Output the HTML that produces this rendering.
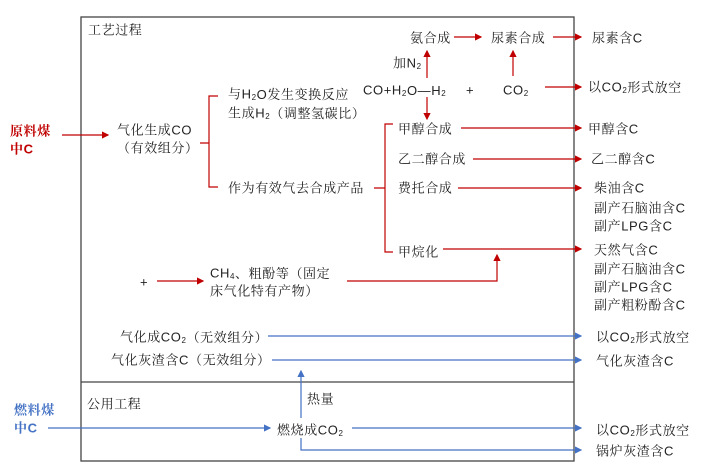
<!DOCTYPE html>
<html><head><meta charset="utf-8"><style>
body{margin:0;background:#fff}
svg text{font-family:"Liberation Sans","Noto Serif CJK SC",serif;font-size:13px;letter-spacing:0.6px;fill:#222;dominant-baseline:central}
</style></head><body>
<svg width="704" height="471" viewBox="0 0 704 471" xmlns="http://www.w3.org/2000/svg">
<defs>
<marker id="r" markerWidth="6" markerHeight="6" refX="5" refY="3" orient="auto"><path d="M0,0L6,3L0,6z" fill="#c00000"/></marker>
<marker id="b" markerWidth="6" markerHeight="6" refX="5" refY="3" orient="auto"><path d="M0,0L6,3L0,6z" fill="#4472c4"/></marker>
</defs>
<rect x="81" y="17" width="493" height="444" fill="none" stroke="#444" stroke-width="1.3"/>
<line x1="81" y1="382" x2="574" y2="382" stroke="#444" stroke-width="1.3"/>
<text x="88" y="30">工艺过程</text>
<text x="87" y="404">公用工程</text>
<g fill="none" stroke="#c00000" stroke-width="1.2">
<line x1="62" y1="135" x2="108" y2="135" marker-end="url(#r)"/>
<path d="M218,96H209V187H218M200,143H209"/>
<path d="M393,124H385V252H393M374,188H385"/>
<line x1="454" y1="37" x2="481" y2="37" marker-end="url(#r)"/>
<line x1="553" y1="37" x2="581" y2="37" marker-end="url(#r)"/>
<line x1="427" y1="78" x2="427" y2="51" marker-end="url(#r)"/>
<line x1="513" y1="76" x2="513" y2="51" marker-end="url(#r)"/>
<line x1="545" y1="87" x2="581" y2="87" marker-end="url(#r)"/>
<line x1="427" y1="97" x2="427" y2="119" marker-end="url(#r)"/>
<line x1="461" y1="128" x2="581" y2="128" marker-end="url(#r)"/>
<line x1="473" y1="159" x2="581" y2="159" marker-end="url(#r)"/>
<line x1="458" y1="188" x2="581" y2="188" marker-end="url(#r)"/>
<line x1="443" y1="249" x2="581" y2="249" marker-end="url(#r)"/>
<line x1="157" y1="281" x2="203" y2="281" marker-end="url(#r)"/>
<path d="M347,281H497V255" marker-end="url(#r)"/>
</g>
<g fill="none" stroke="#4472c4" stroke-width="1.2">
<line x1="268" y1="336" x2="581" y2="336" marker-end="url(#b)"/>
<line x1="272" y1="360" x2="581" y2="360" marker-end="url(#b)"/>
<line x1="301" y1="418" x2="301" y2="371" marker-end="url(#b)"/>
<line x1="48" y1="428" x2="270" y2="428" marker-end="url(#b)"/>
<line x1="352" y1="428" x2="581" y2="428" marker-end="url(#b)"/>
<path d="M301,438V450H581" marker-end="url(#b)"/>
</g>
<g style="font-weight:bold;font-size:13px">
<text x="10" y="131" style="fill:#c00000">原料煤</text><text x="10" y="149" style="fill:#c00000">中C</text>
<text x="14" y="410" style="fill:#4472c4">燃料煤</text><text x="14" y="428" style="fill:#4472c4">中C</text>
</g>
<text x="117" y="130">气化生成CO</text><text x="117" y="148">（有效组分）</text>
<text x="228" y="94">与H<tspan font-size="8" dy="3">2</tspan><tspan dy="-3">O发生变换反应</tspan></text>
<text x="228" y="113">生成H<tspan font-size="8" dy="3">2</tspan><tspan dy="-3">（调整氢碳比）</tspan></text>
<text x="228" y="188">作为有效气去合成产品</text>
<text x="410" y="38">氨合成</text><text x="491" y="38">尿素合成</text><text x="592" y="38">尿素含C</text>
<text x="393" y="63">加N<tspan font-size="8" dy="3">2</tspan></text>
<text x="363" y="90">CO+H<tspan font-size="8" dy="3">2</tspan><tspan dy="-3">O—H</tspan><tspan font-size="8" dy="3">2</tspan></text>
<text x="466" y="90">+</text>
<text x="503" y="90">CO<tspan font-size="8" dy="3">2</tspan></text>
<text x="588" y="87">以CO<tspan font-size="8" dy="3">2</tspan><tspan dy="-3">形式放空</tspan></text>
<text x="398" y="129">甲醇合成</text><text x="588" y="129">甲醇含C</text>
<text x="398" y="159">乙二醇合成</text><text x="591" y="159">乙二醇含C</text>
<text x="398" y="188">费托合成</text>
<text x="594" y="188">柴油含C</text><text x="594" y="208">副产石脑油含C</text><text x="594" y="226">副产LPG含C</text>
<text x="398" y="252">甲烷化</text>
<text x="594" y="250">天然气含C</text><text x="594" y="269">副产石脑油含C</text><text x="594" y="287">副产LPG含C</text><text x="594" y="305">副产粗粉酚含C</text>
<text x="140" y="282">+</text>
<text x="210" y="273">CH<tspan font-size="8" dy="3">4</tspan><tspan dy="-3">、粗酚等（固定</tspan></text>
<text x="210" y="291">床气化特有产物）</text>
<text x="120" y="337">气化成CO<tspan font-size="8" dy="3">2</tspan><tspan dy="-3">（无效组分）</tspan></text>
<text x="596" y="337">以CO<tspan font-size="8" dy="3">2</tspan><tspan dy="-3">形式放空</tspan></text>
<text x="111" y="360">气化灰渣含C（无效组分）</text><text x="596" y="361">气化灰渣含C</text>
<text x="307" y="399">热量</text>
<text x="277" y="430">燃烧成CO<tspan font-size="8" dy="3">2</tspan></text>
<text x="596" y="430">以CO<tspan font-size="8" dy="3">2</tspan><tspan dy="-3">形式放空</tspan></text>
<text x="596" y="451">锅炉灰渣含C</text>
</svg>
</body></html>
